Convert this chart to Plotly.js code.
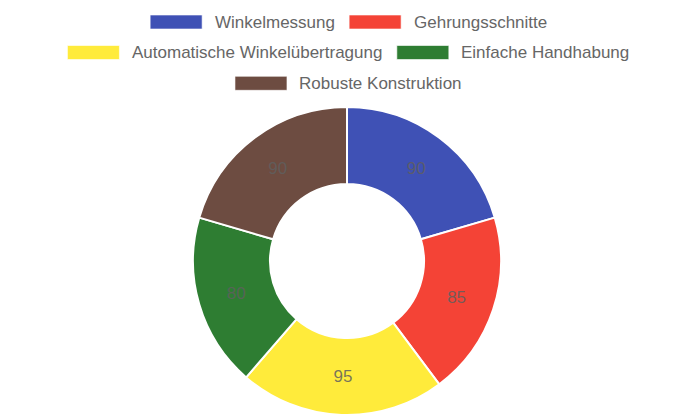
<!DOCTYPE html>
<html>
<head>
<meta charset="utf-8">
<script src="https://cdn.plot.ly/plotly-3.0.1.min.js"></script>
<style>html,body{margin:0;padding:0;background:#fff;}#chart{width:695px;height:417px;}</style>
</head>
<body>
<div id="chart"></div>
<script>
const categories = ["Winkelmessung", "Gehrungsschnitte", "Automatische Winkelübertragung", "Einfache Handhabung", "Robuste Konstruktion"];
const values = [90, 85, 95, 80, 90];
const colors = ["#3F51B5", "#F44336", "#FFEB3B", "#2E7D32", "#6D4C41"];
const legendRows = [[0, 1], [2, 3], [4]];

const W = 695, H = 417;
const FONT = "Liberation Sans, Arial, Helvetica, sans-serif";
const FS = 17;
const cv = document.createElement("canvas").getContext("2d");
cv.font = FS + "px " + FONT;

const boxW = 52, boxH = 14, boxGap = 10.5, itemGap = 16.5;
const rowY = [22, 52.5, 83.3];
const shapes = [], annotations = [];
legendRows.forEach((row, ri) => {
  const widths = row.map(i => boxW + boxGap + cv.measureText(categories[i]).width);
  const total = widths.reduce((a, b) => a + b, 0) + itemGap * (row.length - 1);
  let x = 347.5 - total / 2;
  const cy = rowY[ri];
  row.forEach((i, k) => {
    shapes.push({type: "rect", xref: "paper", yref: "paper",
      x0: x / W, x1: (x + boxW) / W, y0: 1 - (cy - boxH / 2) / H, y1: 1 - (cy + boxH / 2) / H,
      fillcolor: colors[i], line: {color: "rgba(255,255,255,0.6)", width: 1}});
    annotations.push({xref: "paper", yref: "paper", x: (x + boxW + boxGap) / W, y: 1 - cy / H,
      xanchor: "left", yanchor: "middle", showarrow: false, text: categories[i],
      font: {family: FONT, size: FS, color: "#666666"}});
    x += widths[k] + itemGap;
  });
});

const cx = 347, cyc = 261, R = 154;
const trace = {
  type: "pie",
  labels: categories,
  values: values,
  marker: {colors: colors, line: {color: "#ffffff", width: 2}},
  hole: 0.5,
  sort: false,
  direction: "clockwise",
  rotation: 0,
  textinfo: "value",
  textposition: "inside",
  insidetextorientation: "horizontal",
  textfont: {family: FONT, size: 17, color: "rgba(95,95,95,0.85)"},
  domain: {x: [(cx - R) / W, (cx + R) / W], y: [1 - (cyc + R) / H, 1 - (cyc - R) / H]},
  showlegend: false,
  hoverinfo: "label+value"
};

Plotly.newPlot("chart", [trace], {
  width: W, height: H,
  margin: {l: 0, r: 0, t: 0, b: 0},
  paper_bgcolor: "#ffffff",
  showlegend: false,
  shapes: shapes,
  annotations: annotations,
  font: {family: FONT}
}, {displayModeBar: false, staticPlot: true});
</script>
</body>
</html>
